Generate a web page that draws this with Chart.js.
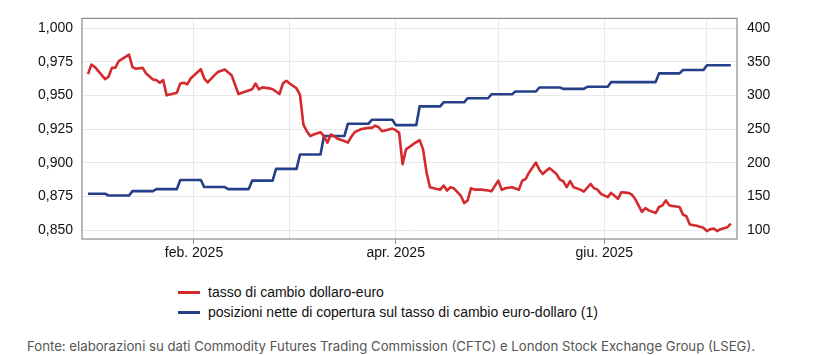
<!DOCTYPE html>
<html>
<head>
<meta charset="utf-8">
<script src="https://cdn.jsdelivr.net/npm/chart.js@4.4.1/dist/chart.umd.min.js"></script>
<style>
  html, body { margin: 0; padding: 0; background: #fff; }
  body { width: 825px; height: 355px; position: relative; overflow: hidden; }
  #wrap { position: absolute; left: 0; top: 0; width: 825px; height: 270px; }
  #legend { position: absolute; left: 178px; top: 282px; font-family: "Liberation Sans", Arial, sans-serif; font-size: 14px; color: #111; }
  .item { height: 20px; line-height: 20px; display: flex; align-items: center; }
  .swatch { width: 22px; height: 3px; margin-right: 8px; }
  #footer { position: absolute; left: 27px; top: 338px; font-family: Inter, "Noto Sans", sans-serif; font-size: 13.2px; color: #555; white-space: nowrap; }
</style>
</head>
<body>
<div id="wrap"><canvas id="c" width="825" height="270"></canvas></div>
<div id="legend"></div>
<div id="footer">Fonte: elaborazioni su dati Commodity Futures Trading Commission (CFTC) e London Stock Exchange Group (LSEG).</div>
<script>
// ---- data (x = days since 1 Jan 2025) ----
const seriesNames = [
  "tasso di cambio dollaro-euro",
  "posizioni nette di copertura sul tasso di cambio euro-dollaro (1)"
];
const fxDays = [0,1,2,5,6,7,8,9,12,13,14,16,17,19,20,21,22,23,26,27,28,29,30,33,34,35,37,38,40,42,44,48,49,50,51,53,54,56,57,58,59,61,62,63,64,65,66,68,69,70,71,72,73,75,76,77,78,80,82,83,84,85,86,88,89,90,91,92,93,95,97,98,99,100,102,103,104,105,106,107,109,110,111,112,113,115,117,118,120,121,122,124,126,127,128,129,131,132,133,134,135,137,138,139,140,141,142,144,145,147,148,149,150,152,153,155,156,158,159,160,161,162,163,164,166,167,168,169,170,171,173,174,175,176,178,179,180,181,182,183,184,185,187,188];
const fxRate = [0.966,0.973,0.9713,0.9623,0.964,0.9706,0.9708,0.9757,0.9804,0.9712,0.970,0.9706,0.9664,0.962,0.9615,0.9596,0.9615,0.9502,0.9522,0.959,0.9596,0.9583,0.9627,0.9696,0.9627,0.9598,0.9652,0.9676,0.9694,0.9652,0.9512,0.9547,0.959,0.9547,0.9561,0.9554,0.9547,0.9512,0.959,0.961,0.959,0.9554,0.9505,0.9284,0.9235,0.9199,0.9211,0.9228,0.9199,0.915,0.9211,0.9199,0.9179,0.9162,0.915,0.9194,0.9228,0.9252,0.926,0.926,0.9277,0.9265,0.9235,0.9248,0.9255,0.9243,0.9223,0.899,0.91,0.9137,0.9169,0.91,0.8929,0.8819,0.8806,0.8801,0.8831,0.8794,0.8819,0.8811,0.8757,0.8701,0.872,0.8811,0.8801,0.8801,0.8794,0.8789,0.8868,0.8799,0.8811,0.8819,0.8800,0.8868,0.888,0.8929,0.9002,0.8949,0.8917,0.8941,0.8961,0.8917,0.8875,0.8863,0.8819,0.8865,0.8819,0.8801,0.8787,0.8843,0.8811,0.8801,0.877,0.8745,0.8777,0.8733,0.8782,0.8777,0.8765,0.8733,0.8684,0.8635,0.8664,0.8647,0.8627,0.8672,0.8684,0.8721,0.8684,0.8679,0.8672,0.8615,0.8603,0.8542,0.8532,0.8525,0.8517,0.8493,0.8507,0.8512,0.8493,0.8507,0.8522,0.8549];
// weekly hedging positions: day each weekly level starts, and its value
const posStartDays = [0,6,13,20,27,34,41,48,55,62,69,76,83,90,97,104,111,118,125,132,139,146,153,160,167,174,181];
const posValues = [154,151.5,158,161,174.5,164,161,173.5,191,212.5,240,258,264,256,284,290,296,302,306,312,310,313,320,320,333,338,345];
const posEndDay = 188;
// axes
const monthDays = [31,59,90,120,151,181];
const monthLabels = {31:"feb. 2025", 90:"apr. 2025", 151:"giu. 2025"};
const leftTicks = [0.850,0.875,0.900,0.925,0.950,0.975,1.000];
const rightTicks = [100,150,200,250,300,350,400];

const RED = "#d42a2e", BLUE = "#263f8a";

const fxPoints = fxDays.map((d,i)=>({x:d, y:fxRate[i]}));
const posPoints = [];
posStartDays.forEach((d,i)=>{
  const end = i < posStartDays.length-1 ? posStartDays[i+1]-1 : posEndDay;
  posPoints.push({x:d, y:posValues[i]});
  posPoints.push({x:end, y:posValues[i]});
});

const frame = {
  id:'frame',
  afterDraw(chart){
    const a = chart.chartArea, ctx = chart.ctx;
    ctx.save();
    ctx.strokeStyle = '#8c8c8c';
    ctx.lineWidth = 1.2;
    ctx.strokeRect(a.left, a.top, a.right-a.left, a.bottom-a.top);
    ctx.restore();
  }
};

const font = {family:"'Liberation Sans', Arial, sans-serif", size:14};

new Chart(document.getElementById('c'), {
  type:'line',
  data:{datasets:[
    {label:seriesNames[0], data:fxPoints, borderColor:RED, borderWidth:2.6, pointRadius:0, yAxisID:'y', tension:0, borderJoinStyle:'round'},
    {label:seriesNames[1], data:posPoints, borderColor:BLUE, borderWidth:2.6, pointRadius:0, yAxisID:'y1', tension:0, borderJoinStyle:'round'}
  ]},
  options:{
    responsive:false, animation:false,
    layout:{padding:{top:16, left:0, right:0, bottom:0}},
    plugins:{legend:{display:false}, tooltip:{enabled:false}},
    scales:{
      x:{type:'linear', min:-1.75, max:189.8,
        afterBuildTicks(s){ s.ticks = monthDays.map(v=>({value:v})); },
        afterFit(s){ s.height = 31; },
        grid:{color:'#e9e9e9', lineWidth:1, tickLength:5,
          tickColor:(c)=> monthLabels[c.tick && c.tick.value] ? '#8c8c8c' : 'rgba(0,0,0,0)'},
        border:{display:false},
        ticks:{font, color:'#111', padding:1, maxRotation:0, autoSkip:false,
          callback:(v)=> monthLabels[v] || ''}
      },
      y:{position:'left', min:0.8434, max:1.0074,
        afterBuildTicks(s){ s.ticks = leftTicks.map(v=>({value:v})); },
        afterFit(s){ s.width = 82; },
        grid:{color:'#e9e9e9', lineWidth:1, drawTicks:false},
        border:{display:false},
        ticks:{font, color:'#111', padding:9, callback:(v)=> v.toFixed(3).replace('.',',')}
      },
      y1:{position:'right', min:86.8, max:414.7,
        afterBuildTicks(s){ s.ticks = rightTicks.map(v=>({value:v})); },
        afterFit(s){ s.width = 88; },
        grid:{drawOnChartArea:false, drawTicks:false},
        border:{display:false},
        ticks:{font, color:'#111', padding:10}
      }
    }
  },
  plugins:[frame]
});

// HTML legend
const lg = document.getElementById('legend');
[[seriesNames[0],RED],[seriesNames[1],BLUE]].forEach(([t,c])=>{
  const d = document.createElement('div'); d.className='item';
  const s = document.createElement('span'); s.className='swatch'; s.style.background=c;
  const tx = document.createElement('span'); tx.textContent = t;
  d.appendChild(s); d.appendChild(tx); lg.appendChild(d);
});
</script>
</body>
</html>
